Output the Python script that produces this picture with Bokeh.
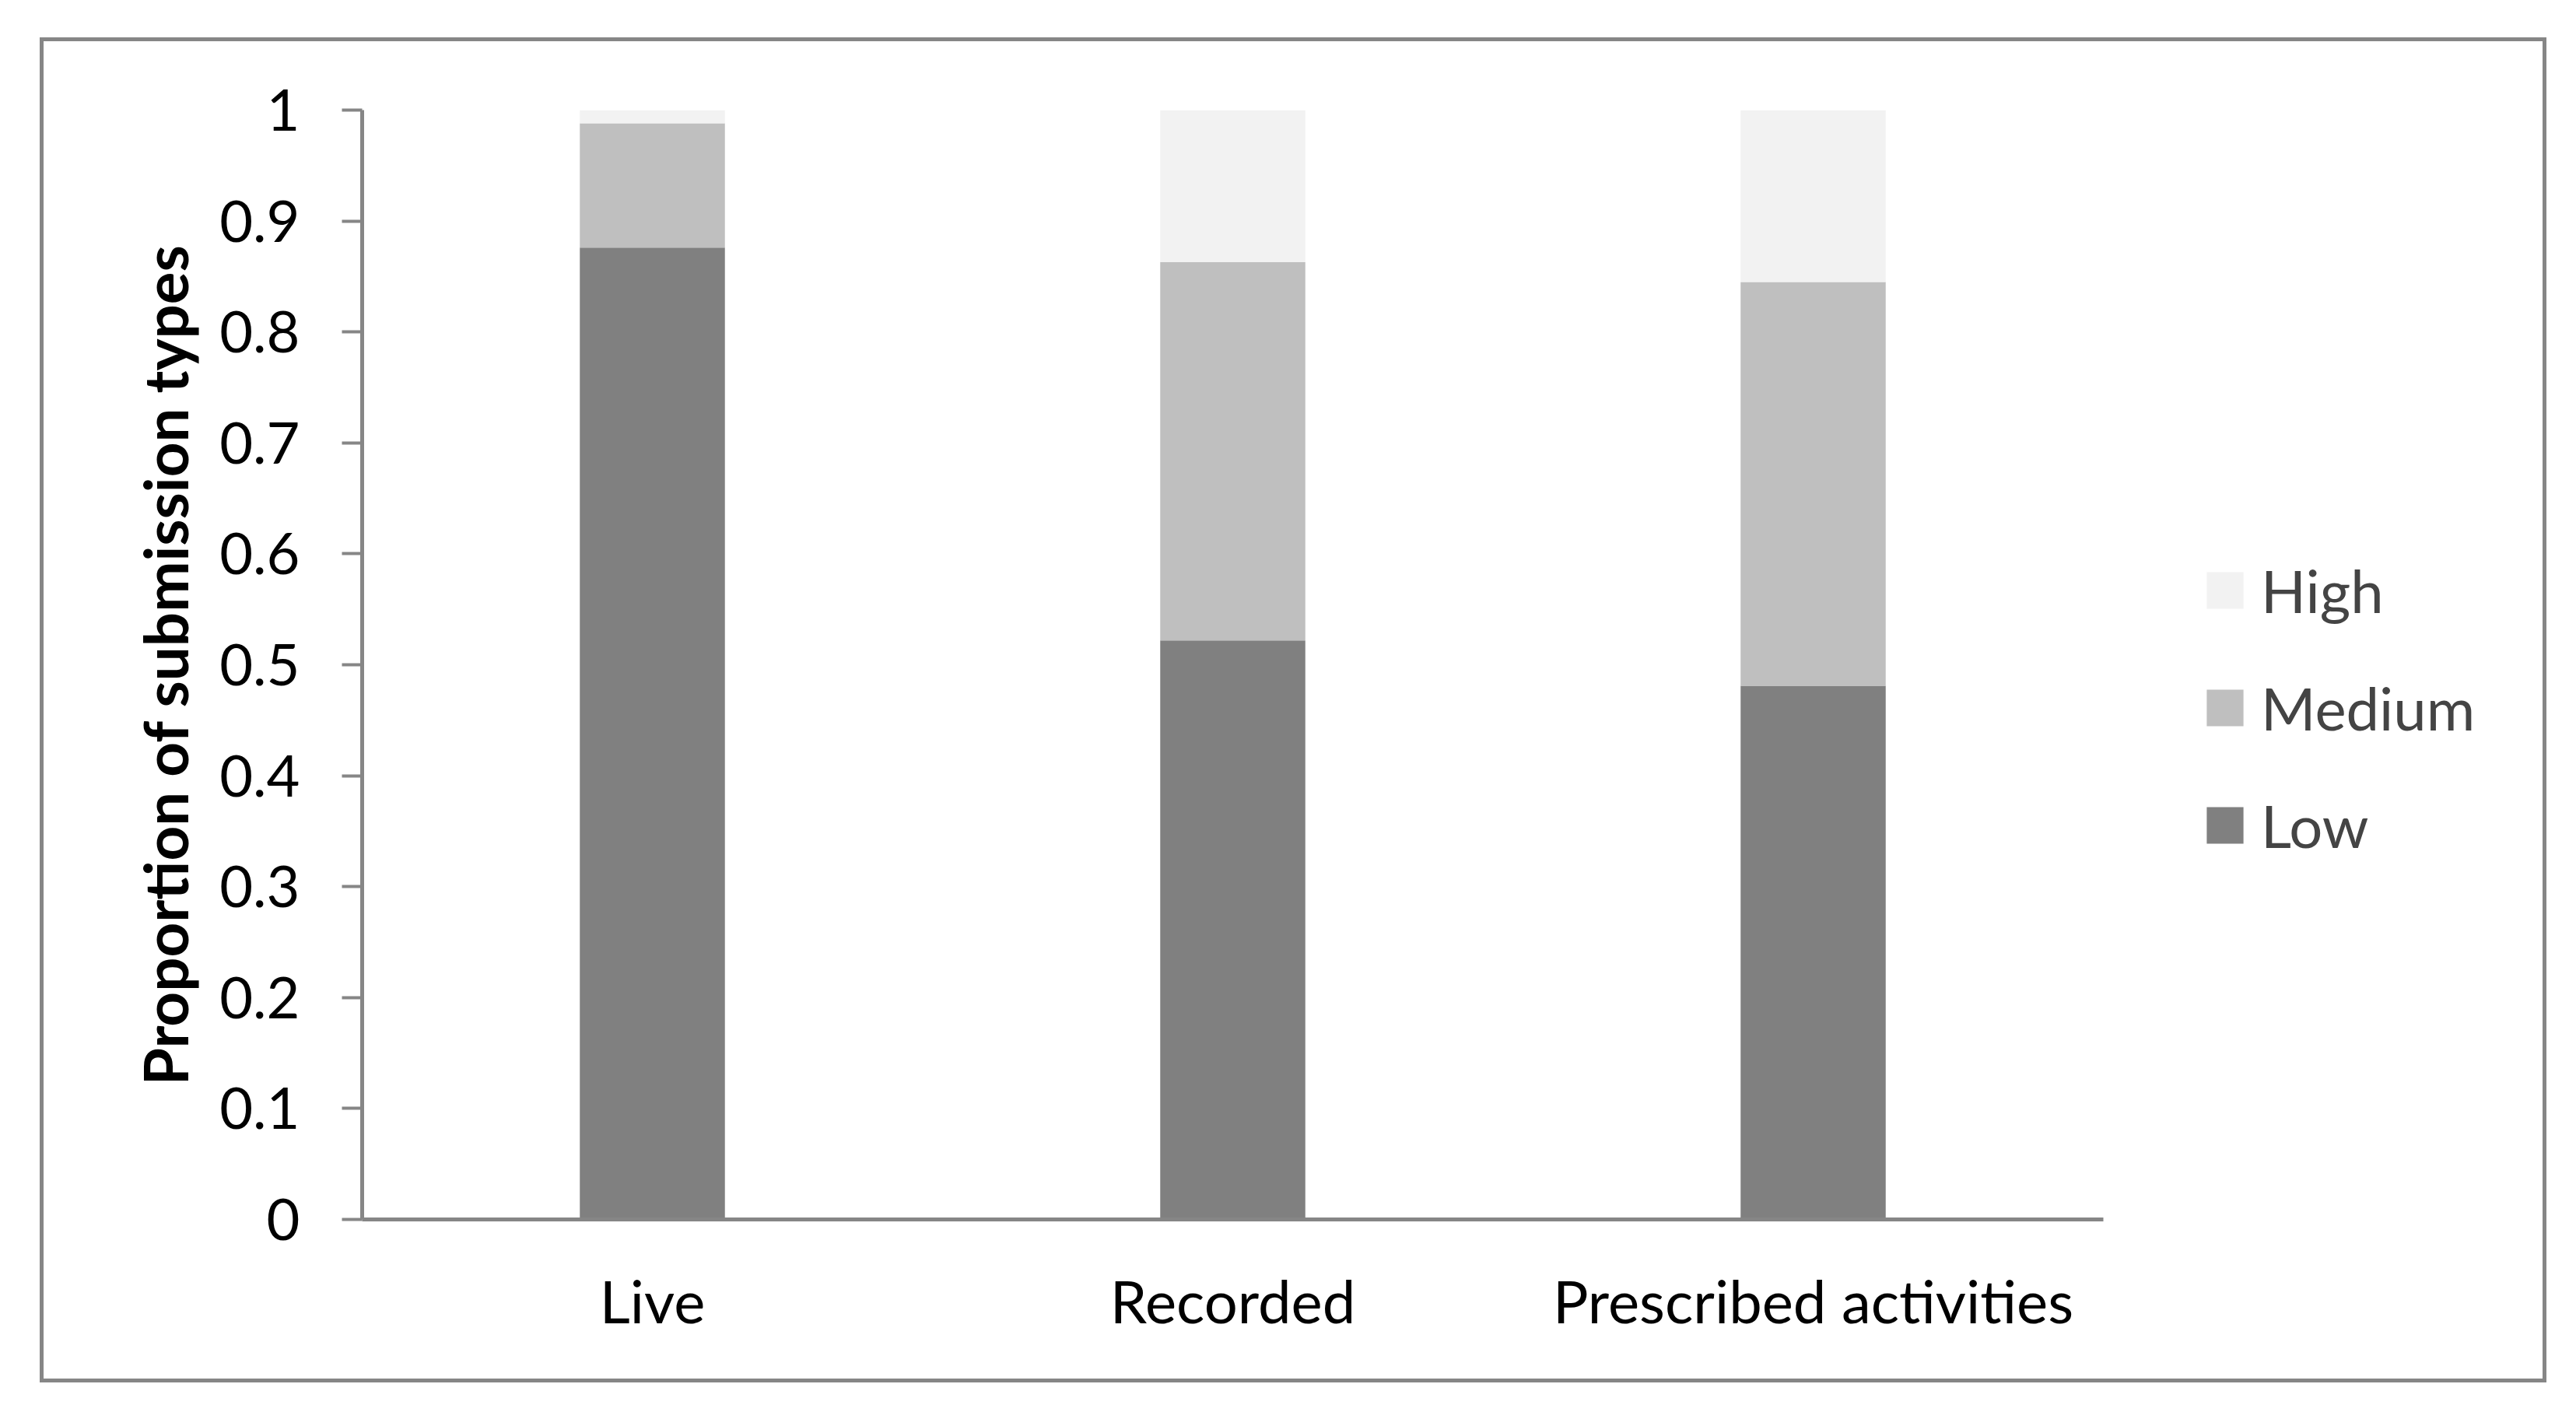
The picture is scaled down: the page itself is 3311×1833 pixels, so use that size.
from bokeh.plotting import figure
from bokeh.models import (Range1d, FixedTicker, Legend, LegendItem,
                          ColumnDataSource, InlineStyleSheet)
from bokeh.embed import file_html
from bokeh.resources import INLINE

# ---- data ----
categories = ["Live", "Recorded", "Prescribed activities"]
low = [0.876, 0.522, 0.481]
medium = [0.112, 0.341, 0.364]
high = [0.012, 0.137, 0.155]
series_names = ["Low", "Medium", "High"]
series_colors = ["#808080", "#bfbfbf", "#f2f2f2"]
y_ticks = [0, 0.1, 0.2, 0.3, 0.4, 0.5, 0.6, 0.7, 0.8, 0.9, 1]
y_tick_labels = ["0", "0.1", "0.2", "0.3", "0.4", "0.5", "0.6", "0.7", "0.8", "0.9", "1"]
y_title = "Proportion of submission types"

GRAY = "#868686"
FONT = "Lato"

# category slots: one unit per category, bars centred in each slot
n_cat = len(categories)
x_pos = [i + 0.5 for i in range(n_cat)]

# layout (pixels)
W, H = 3295, 1817
LEFT, TOP, BOTTOM = 465, 141, 250
RIGHT = 30
AXIS_W = 2238                      # width of the category axis itself
FRAME_W = W - LEFT - RIGHT
x_end = n_cat * FRAME_W / AXIS_W   # extra room on the right holds the legend

source = ColumnDataSource(data=dict(x=x_pos, Low=low, Medium=medium, High=high))

p = figure(width=W, height=H, output_backend="svg", toolbar_location=None,
           x_range=Range1d(0, x_end), y_range=Range1d(0, 1),
           min_border_left=LEFT, min_border_right=RIGHT, min_border_top=TOP,
           min_border_bottom=BOTTOM)
p.outline_line_color = None
p.xgrid.grid_line_color = None
p.ygrid.grid_line_color = None
p.background_fill_color = "white"
p.border_fill_color = "white"

renderers = p.vbar_stack(series_names, x="x", width=0.25, source=source,
                         fill_color=series_colors, line_color=None)

# y axis
p.yaxis.ticker = FixedTicker(ticks=y_ticks)
p.yaxis.major_label_overrides = dict(zip(y_ticks, y_tick_labels))
p.yaxis.minor_tick_line_color = None
p.yaxis.axis_line_color = GRAY
p.yaxis.axis_line_width = 5
p.yaxis.major_tick_line_color = GRAY
p.yaxis.major_tick_line_width = 4
p.yaxis.major_tick_out = 26
p.yaxis.major_tick_in = 0
p.yaxis.major_label_standoff = 54
p.yaxis.major_label_text_font = FONT
p.yaxis.major_label_text_font_size = "74px"
p.yaxis.major_label_text_color = "black"
p.yaxis.axis_label = y_title
p.yaxis.axis_label_text_font = FONT
p.yaxis.axis_label_text_font_style = "bold"
p.yaxis.axis_label_text_font_size = "78px"
p.yaxis.axis_label_text_color = "black"
p.yaxis.axis_label_standoff = 20

# x axis (category axis, line limited to the category slots)
p.xaxis.ticker = FixedTicker(ticks=x_pos)
p.xaxis.major_label_overrides = dict(zip(x_pos, categories))
p.xaxis.bounds = (0, n_cat)
p.xaxis.axis_line_color = GRAY
p.xaxis.axis_line_width = 5
p.xaxis.major_tick_line_color = None
p.xaxis.minor_tick_line_color = None
p.xaxis.major_tick_out = 0
p.xaxis.major_tick_in = 0
p.xaxis.major_label_standoff = 58
p.xaxis.major_label_text_font = FONT
p.xaxis.major_label_text_font_size = "76px"
p.xaxis.major_label_text_color = "black"

# legend (reverse order: High on top); swatch is drawn at 80% of the glyph box
items = [LegendItem(label=name, renderers=[r]) for name, r in zip(series_names, renderers)][::-1]
legend = Legend(items=items, location=(2365, 461), glyph_width=59, glyph_height=59,
                label_standoff=17, spacing=60, padding=0, margin=0,
                label_text_font=FONT, label_text_font_size="76px",
                border_line_color=None, background_fill_alpha=0)
p.add_layout(legend, "center")

# outer chart border (drawn by CSS over the canvas)
p.stylesheets.append(InlineStyleSheet(css="""
:host { position: relative; }
:host::after {
  content: ""; position: absolute; left: 51px; top: 48px;
  width: 3222px; height: 1729px; border: 5px solid #868686;
  box-sizing: border-box; pointer-events: none; z-index: 10;
}
"""))

open("out.html", "w").write(file_html(p, INLINE))
